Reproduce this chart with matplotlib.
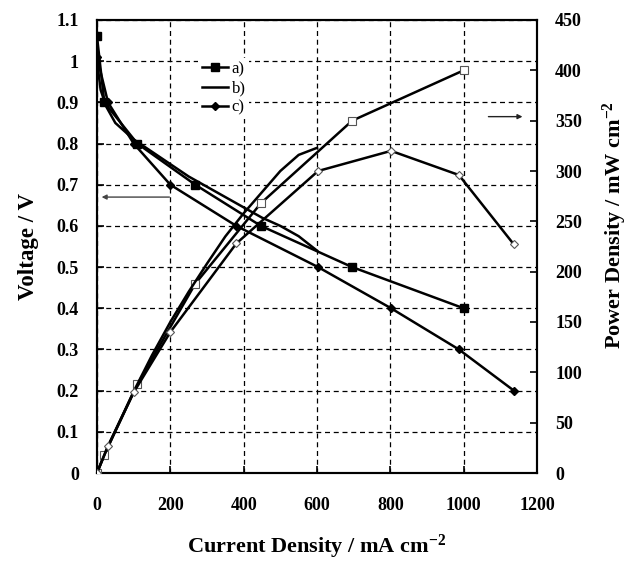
import matplotlib
matplotlib.use("Agg")
import matplotlib.pyplot as plt

# ---- data ----
# a) filled squares (voltage) / open squares (power)
cur_a = [0, 20, 110, 268, 447, 696, 1000]
volt_a = [1.06, 0.90, 0.80, 0.70, 0.60, 0.50, 0.40]
pow_a = [0, 18, 88, 188, 268, 350, 400]

# b) plain line, no markers
cur_b = [0, 10, 25, 50, 100, 150, 200, 250, 300, 350, 400, 450, 500, 550, 600]
volt_b = [1.00, 0.93, 0.89, 0.85, 0.81, 0.78, 0.75, 0.72, 0.695, 0.67, 0.645,
          0.62, 0.60, 0.575, 0.54]
pow_b = [0, 9, 22, 42, 81, 117, 150, 180, 208, 235, 258, 279, 300, 316, 323]

# c) filled diamonds (voltage) / open diamonds (power)
cur_c = [0, 30, 100, 200, 380, 603, 802, 987, 1137]
volt_c = [1.01, 0.90, 0.80, 0.70, 0.60, 0.50, 0.40, 0.30, 0.20]
pow_c = [0, 27, 80, 140, 228, 300, 320, 296, 227]

labels = ["a)", "b)", "c)"]
x_ticks = [0, 200, 400, 600, 800, 1000, 1200]
v_ticks = [0, 0.1, 0.2, 0.3, 0.4, 0.5, 0.6, 0.7, 0.8, 0.9, 1.0, 1.1]
v_ticklabels = ["0", "0.1", "0.2", "0.3", "0.4", "0.5", "0.6", "0.7", "0.8",
                "0.9", "1", "1.1"]
p_ticks = [0, 50, 100, 150, 200, 250, 300, 350, 400, 450]

plt.rcParams["font.family"] = ["Liberation Serif", "DejaVu Serif"]
plt.rcParams["mathtext.fontset"] = "custom"
plt.rcParams["mathtext.rm"] = "Liberation Serif:bold"
plt.rcParams["mathtext.it"] = "Liberation Serif:bold"
plt.rcParams["mathtext.bf"] = "Liberation Serif:bold"

fig = plt.figure(figsize=(6.28, 5.62), dpi=100)
ax = fig.add_axes([97 / 628, 89 / 562, 440 / 628, 453 / 562])
ax2 = ax.twinx()

LW = 1.8
ax.plot(cur_a, volt_a, color="k", lw=LW, marker="s", ms=5.5,
        mfc="k", mec="k", label=labels[0], zorder=3)
ax.plot(cur_b, volt_b, color="k", lw=LW, label=labels[1], zorder=3)
ax.plot(cur_c, volt_c, color="k", lw=LW, marker="D", ms=4,
        mfc="k", mec="k", label=labels[2], zorder=3)

ax2.plot(cur_a, pow_a, color="k", lw=LW, marker="s", ms=5.5,
         mfc="white", mec="#555555", mew=0.8, zorder=3)
ax2.plot(cur_b, pow_b, color="k", lw=LW, zorder=3)
ax2.plot(cur_c, pow_c, color="k", lw=LW, marker="D", ms=4.5,
         mfc="white", mec="#555555", mew=0.8, zorder=3)

ax.set_xlim(0, 1200)
ax.set_ylim(0, 1.1)
ax2.set_ylim(0, 450)

ax.set_xticks(x_ticks)
ax.set_yticks(v_ticks)
ax.set_yticklabels(v_ticklabels)
ax2.set_yticks(p_ticks)

for lab in ax.get_xticklabels() + ax.get_yticklabels() + ax2.get_yticklabels():
    lab.set_fontsize(13)
    lab.set_fontweight("bold")

ax.tick_params(axis="x", direction="in", length=5, width=1.2, pad=17, top=False)
ax.tick_params(axis="y", direction="in", length=5, width=1.2, pad=13, right=False)
ax2.tick_params(axis="y", direction="in", length=5, width=1.2, pad=13)

ax.grid(True, color="k", lw=0.9, ls=(0, (4, 3)))
ax.set_axisbelow(True)

for a in (ax, ax2):
    for sp in a.spines.values():
        sp.set_linewidth(1.5)

ax.set_xlabel("Current Density / mA cm$^{-2}$", fontsize=16,
              fontweight="bold", labelpad=14)
ax.set_ylabel("Voltage / V", fontsize=16.5, fontweight="bold", labelpad=13)
ax2.set_ylabel("Power Density / mW cm$^{-2}$", fontsize=16,
               fontweight="bold")
ax2.yaxis.set_label_coords(1.145, 0.547)

# arrows pointing to each axis
ax.annotate("", xy=(5, 0.67), xytext=(205, 0.67),
            arrowprops=dict(arrowstyle="-|>", color="#444444", lw=1.0,
                            mutation_scale=7))
ax2.annotate("", xy=(1168, 354), xytext=(1060, 354),
             arrowprops=dict(arrowstyle="-|>", color="#222222", lw=1.0,
                             mutation_scale=7))

leg = ax.legend(loc="upper left", bbox_to_anchor=(0.211, 0.935), fontsize=12,
                frameon=True, fancybox=False, edgecolor="none",
                facecolor="white", framealpha=1, handlelength=1.6,
                handletextpad=0.2, labelspacing=0.2, borderpad=0.2)
leg.set_zorder(5)

fig.savefig("out.png", dpi=100)
